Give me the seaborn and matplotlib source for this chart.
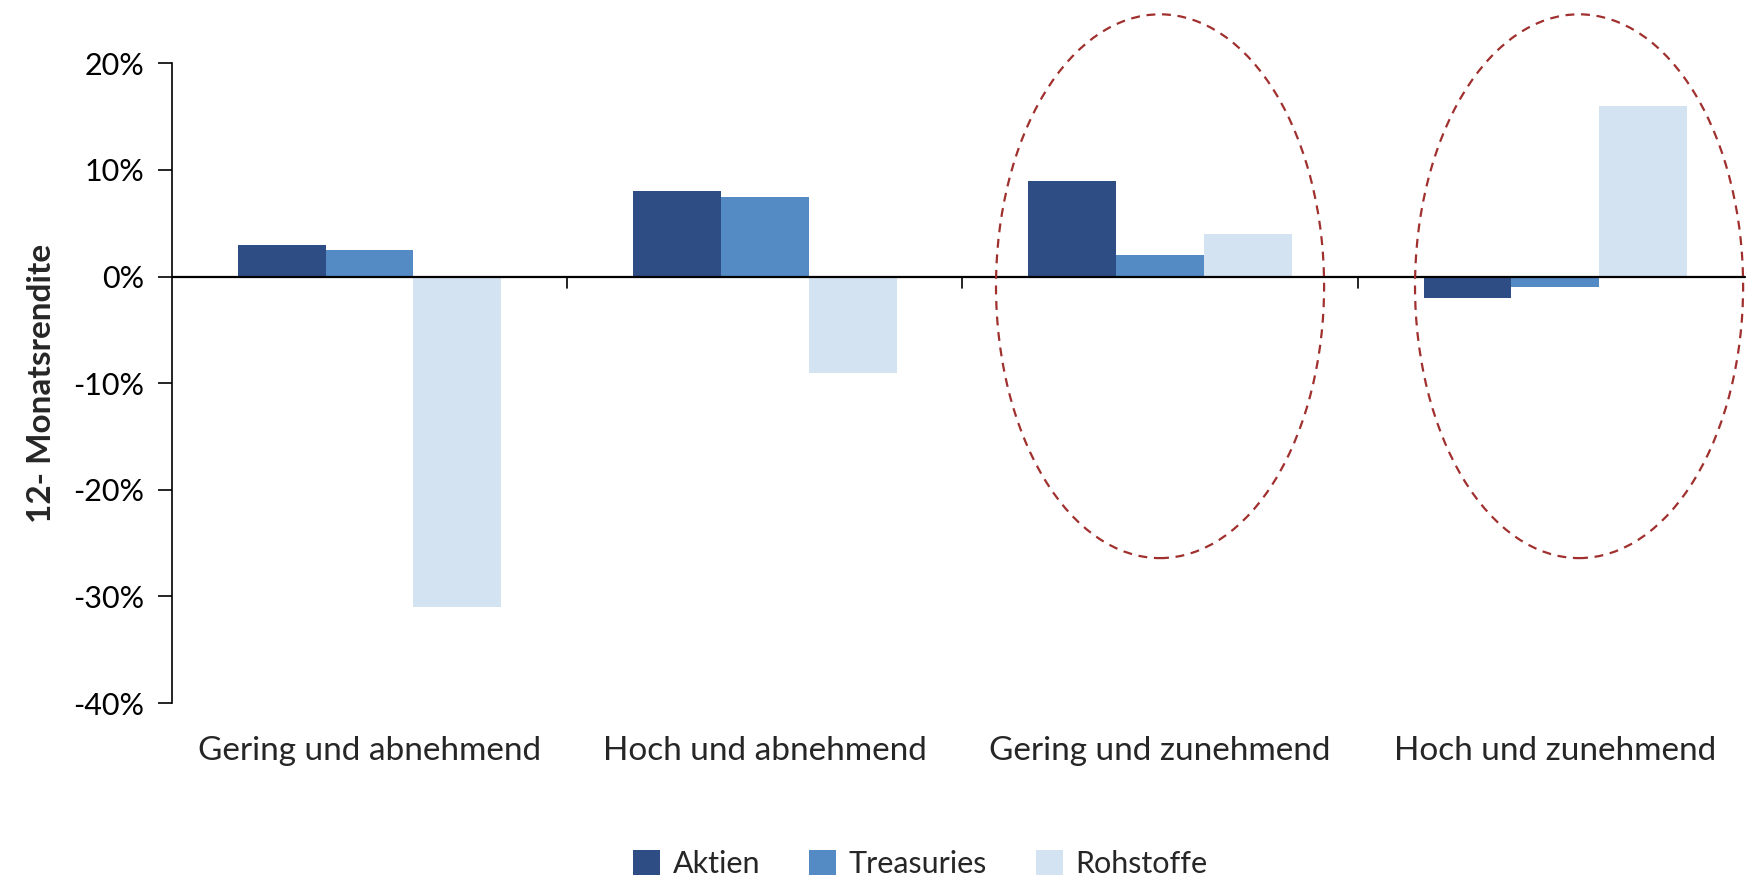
import matplotlib
matplotlib.use("Agg")
import matplotlib.pyplot as plt
import seaborn as sns
import pandas as pd
from matplotlib.patches import Ellipse
from matplotlib.ticker import FuncFormatter

# Data (12-month returns in %)
categories = ["Gering und abnehmend", "Hoch und abnehmend",
              "Gering und zunehmend", "Hoch und zunehmend"]
series = ["Aktien", "Treasuries", "Rohstoffe"]
aktien = [3.0, 8.0, 9.0, -2.0]
treasuries = [2.5, 7.5, 2.0, -1.0]
rohstoffe = [-31.0, -9.0, 4.0, 16.0]
colors = ["#2E4D85", "#548BC4", "#D3E3F2"]
highlighted = ["Gering und zunehmend", "Hoch und zunehmend"]
ellipse_shift = [0.0, 0.06]

rows = []
for name, vals in zip(series, [aktien, treasuries, rohstoffe]):
    for cat, v in zip(categories, vals):
        rows.append({"Kategorie": cat, "Anlage": name, "Rendite": v})
df = pd.DataFrame(rows)

sns.set_style("white")
plt.rcParams["font.family"] = ["Lato", "DejaVu Sans"]

fig = plt.figure(figsize=(17.53, 8.8), dpi=100)
ax = fig.add_axes([0.098, 0.201, 0.902, 0.727])

sns.barplot(data=df, x="Kategorie", y="Rendite", hue="Anlage",
            order=categories, hue_order=series, palette=colors,
            saturation=1, width=0.667, gap=0, linewidth=0, ax=ax, legend=True)

ax.set_xlim(-0.5, len(categories) - 0.5)
ax.set_ylim(-40, 20)
ax.set_yticks([-40, -30, -20, -10, 0, 10, 20])
ax.yaxis.set_major_formatter(FuncFormatter(lambda v, p: f"{v:.0f}%"))
ax.tick_params(axis="y", direction="out", length=10, width=1.2,
               labelsize=22, pad=10, left=True, colors="black")
ax.set_ylabel("12- Monatsrendite", fontsize=24, fontweight="bold", labelpad=12)

# x axis: line at zero with dividers, labels below the plot
ax.set_xlabel("")
ax.set_xticks([])
ax.axhline(0, xmax=0.995, color="black", lw=1.6, zorder=3)
for b in [i + 0.5 for i in range(len(categories) - 1)]:
    ax.plot([b, b], [0, -1.1], color="black", lw=1.2, clip_on=False, zorder=3)
for i, cat in enumerate(categories):
    ax.text(i, -44.5, cat, ha="center", va="center", fontsize=24)

for s in ["top", "right", "bottom"]:
    ax.spines[s].set_visible(False)
ax.spines["left"].set_color("black")
ax.spines["left"].set_linewidth(1.2)

# dashed ellipses around the highlighted groups
for cat, dx in zip(highlighted, ellipse_shift):
    i = categories.index(cat)
    ax.add_patch(Ellipse((i + dx, -0.9), 0.83, 51, fill=False, ls=(0, (4, 3)),
                         edgecolor="#A0302E", lw=1.6, clip_on=False, zorder=4))

handles, labels = ax.get_legend_handles_labels()
ax.legend_.remove()
fig.legend(handles, labels, loc="center", bbox_to_anchor=(0.525, 0.018),
           ncol=3, frameon=False, fontsize=22, handlelength=0.9,
           handleheight=0.9, handletextpad=0.4, columnspacing=1.6)

fig.savefig("out.png", dpi=100)
